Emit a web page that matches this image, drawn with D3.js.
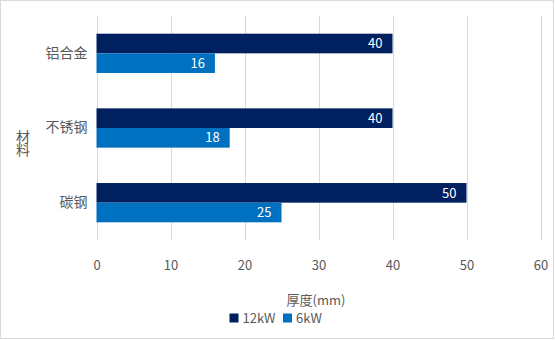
<!DOCTYPE html>
<html>
<head>
<meta charset="utf-8">
<script src="https://cdn.jsdelivr.net/npm/d3@7"></script>
<style>
  html, body { margin: 0; padding: 0; background: #fff; }
  svg text { font-family: "Noto Sans CJK SC", "Noto Sans", sans-serif; }
</style>
</head>
<body>
<svg id="chart" width="555" height="340"></svg>
<script>
// Materials (top to bottom) and cutting thickness per laser power
const categories = ["铝合金", "不锈钢", "碳钢"];
const seriesNames = ["12kW", "6kW"];
const values12kW = [40, 40, 50];
const values6kW = [16, 18, 25];
const xTicks = [0, 10, 20, 30, 40, 50, 60];
const colors = ["#002060", "#0070C0"];

const svg = d3.select("#chart");
const W = 555, H = 340;
const margin = { left: 96.5, right: 14.5, top: 16, bottom: 100 };

// Outer chart border
svg.append("rect")
  .attr("x", 0.5).attr("y", 0.5)
  .attr("width", W - 2).attr("height", H - 2)
  .attr("fill", "#fff").attr("stroke", "#d9d9d9");

const x = d3.scaleLinear().domain([0, 60]).range([margin.left, W - margin.right]);
const y = d3.scaleBand().domain(categories).range([margin.top, H - margin.bottom])
  .paddingInner(0.474).paddingOuter(0.237);
const ySub = d3.scaleBand().domain(seriesNames).range([0, y.bandwidth()]);

// Vertical gridlines
svg.append("g").selectAll("line").data(xTicks).join("line")
  .attr("x1", d => Math.round(x(d)) + 0.5).attr("x2", d => Math.round(x(d)) + 0.5)
  .attr("y1", margin.top).attr("y2", H - margin.bottom)
  .attr("stroke", "#d9d9d9").attr("stroke-width", 1);

// X axis tick labels
const xAxis = d3.axisBottom(x).tickValues(xTicks).tickSize(0).tickPadding(0);
const gx = svg.append("g").attr("transform", `translate(0,${H - margin.bottom + 21})`).call(xAxis);
gx.select(".domain").remove();
gx.selectAll("text").attr("font-size", 13).attr("fill", "#595959")
  .attr("font-family", "'Noto Sans CJK SC', sans-serif");

// Category labels
const yAxis = d3.axisLeft(y).tickSize(0).tickPadding(9);
const gy = svg.append("g").attr("transform", `translate(${margin.left},0)`).call(yAxis);
gy.select(".domain").remove();
gy.selectAll("text").attr("font-size", 14).attr("fill", "#595959")
  .attr("font-family", "'Noto Sans CJK SC', sans-serif");

// Bars
const rows = categories.map((c, i) => ({ cat: c, vals: [values12kW[i], values6kW[i]] }));
const groups = svg.append("g").selectAll("g").data(rows).join("g")
  .attr("transform", d => `translate(0,${y(d.cat)})`);

groups.selectAll("rect").data(d => d.vals.map((v, k) => ({ v, k }))).join("rect")
  .attr("x", x(0))
  .attr("y", d => ySub(seriesNames[d.k]))
  .attr("width", d => x(d.v) - x(0))
  .attr("height", ySub.bandwidth())
  .attr("fill", d => colors[d.k]);

// Value labels inside the bar ends
groups.selectAll("text").data(d => d.vals.map((v, k) => ({ v, k }))).join("text")
  .attr("x", d => x(d.v) - 10)
  .attr("y", d => ySub(seriesNames[d.k]) + ySub.bandwidth() / 2)
  .attr("dy", "0.36em")
  .attr("text-anchor", "end")
  .attr("font-size", 13)
  .attr("fill", "#fff")
  .text(d => d.v);

// Axis titles
svg.append("text")
  .attr("x", 316).attr("y", 305)
  .attr("text-anchor", "middle").attr("font-size", 13).attr("fill", "#595959")
  .text("厚度(mm)");

// Vertical, upright y-axis title
svg.append("text")
  .attr("x", 23).attr("y", 143)
  .attr("text-anchor", "middle")
  .style("writing-mode", "vertical-rl")
  .style("text-orientation", "upright")
  .style("letter-spacing", "-1px")
  .attr("font-size", 14).attr("fill", "#595959")
  .text("材料");

// Legend
const legendItems = [
  { name: "12kW", color: colors[0], x: 229.5 },
  { name: "6kW", color: colors[1], x: 283 }
];
const lg = svg.append("g").selectAll("g").data(legendItems).join("g")
  .attr("transform", d => `translate(${d.x},318)`);
lg.append("rect").attr("x", 0).attr("y", -4.5).attr("width", 9).attr("height", 9)
  .attr("fill", d => d.color);
lg.append("text").attr("x", 13).attr("y", 0).attr("dy", "0.36em")
  .attr("font-size", 13).attr("fill", "#595959").text(d => d.name);
</script>
</body>
</html>
